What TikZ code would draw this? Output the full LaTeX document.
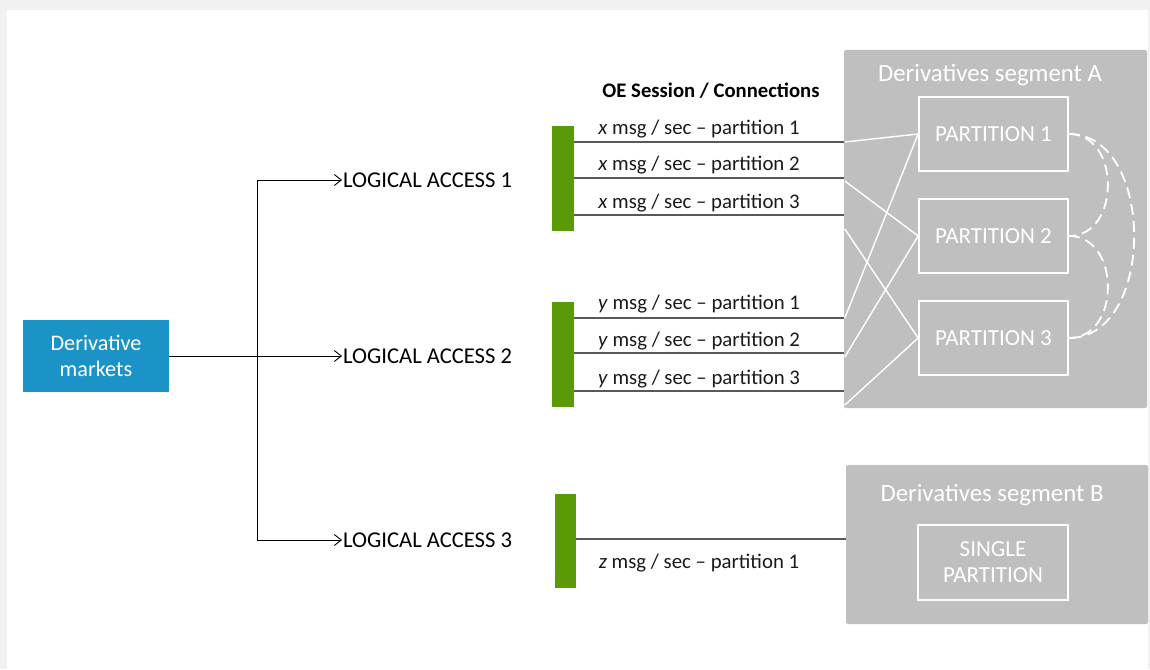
\documentclass[tikz,border=0pt]{standalone}
\usepackage{fontspec}
\setmainfont{Carlito}
\usetikzlibrary{arrows.meta,calc}
\definecolor{bggray}{HTML}{F1F1F1}
\definecolor{seggray}{HTML}{BFBFBF}
\definecolor{dmblue}{HTML}{1B93C7}
\definecolor{bargreen}{HTML}{5A9A06}
\definecolor{txtc}{HTML}{1A1A1A}
\definecolor{linec}{HTML}{595959}
\tikzset{
  fs/.style={font=\fontsize{#1}{26}\selectfont},
  lbl/.style={fs=20.8, text=txtc, inner sep=0},
  acc/.style={fs=22.6, text=black, anchor=west, inner sep=0},
  accarrow/.style={draw=black, line width=0.8pt, -{Straight Barb[length=7pt,width=11pt,line width=0.9pt]}},
  barbox/.style={fill=bargreen, inner sep=0, minimum width=22, minimum height=105},
  conn/.style={draw=linec, line width=1.4pt},
  seg/.style={fill=seggray, inner sep=0, rounded corners=2pt},
  segtitle/.style={fs=24.8, text=white, inner sep=0},
  part/.style={draw=white, line width=1.8pt, text=white, fs=23, minimum width=149, minimum height=74, inner sep=0, align=center},
  wl/.style={draw=white, line width=1.4pt},
  wd/.style={draw=white, line width=1.8pt, dash pattern=on 11pt off 6pt},
}
\begin{document}
\begin{tikzpicture}[x=1pt,y=-1pt]
\fill[bggray] (0,0) rectangle (1150,669);
\fill[white] (7,10) rectangle (1148,669);
\useasboundingbox (0,0) rectangle (1150,669);

% source
\node[fill=dmblue, text=white, fs=22.2, minimum width=146, minimum height=72, inner sep=0, align=center] (dm) at (96,356) {Derivative\\markets};
\coordinate (j) at (257,356);

% logical accesses
\node[acc] (la1) at (343,180) {LOGICAL ACCESS 1};
\node[acc] (la2) at (343,356) {LOGICAL ACCESS 2};
\node[acc] (la3) at (343,540) {LOGICAL ACCESS 3};
\draw[draw=black, line width=0.8pt] (dm.east) -- (j);
\draw[accarrow] (j) |- ($(la1.west)+(-1,0)$);
\draw[accarrow] (j) -- ($(la2.west)+(-1,0)$);
\draw[accarrow] (j) |- ($(la3.west)+(-1,0)$);

% bars
\node[barbox] (b1) at (563,178.5) {};
\node[barbox] (b2) at (563,354.5) {};
\node[barbox, minimum width=21, minimum height=94] (b3) at (565.5,541) {};

\node[font=\fontsize{20.7}{24}\selectfont\bfseries, text=black, inner sep=0] (oe) at (711,91) {OE Session / Connections};

% segments
\node[seg, minimum width=303, minimum height=358] (sa) at (995.5,229) {};
\node[segtitle] (sat) at (990,75) {Derivatives segment A};
\node[part] (p1) at (993.5,134) {PARTITION 1};
\node[part] (p2) at (993.5,236) {PARTITION 2};
\node[part] (p3) at (993.5,338) {PARTITION 3};

\node[seg, minimum width=302, minimum height=159] (sb) at (997,544.5) {};
\node[segtitle] (sbt) at (992,495) {Derivatives segment B};
\node[part, minimum width=150, minimum height=75] (sp) at (993,562.5) {SINGLE\\PARTITION};

% connections A
\foreach \y/\b in {142/b1,178/b1,215/b1,318/b2,353/b2,391/b2}{
  \draw[conn] (\b.east |- 0,\y) -- (sa.west |- 0,\y);
}
\node[lbl] (l11) at (699,129) {\textit{x} msg / sec – partition 1};
\node[lbl] (l12) at (699,165) {\textit{x} msg / sec – partition 2};
\node[lbl] (l13) at (699,203) {\textit{x} msg / sec – partition 3};
\node[lbl] (l21) at (699,304) {\textit{y} msg / sec – partition 1};
\node[lbl] (l22) at (699,341) {\textit{y} msg / sec – partition 2};
\node[lbl] (l23) at (699,379) {\textit{y} msg / sec – partition 3};

% connection B
\draw[conn] (b3.east |- 0,539) -- (sb.west |- 0,539);
\node[lbl] (l31) at (699,563) {\textit{z} msg / sec – partition 1};

% white lines in segment A
\draw[wl] ($(sa.west |- 0,142)+(1,0)$) -- (p1.west);
\draw[wl] ($(sa.west |- 0,181)+(1,0)$) -- (p2.west);
\draw[wl] ($(sa.west |- 0,229)+(1,0)$) -- (p3.west);
\draw[wl] ($(sa.west |- 0,318)+(1,0)$) -- (p1.west);
\draw[wl] ($(sa.west |- 0,357)+(1,0)$) -- (p2.west);
\draw[wl] ($(sa.west |- 0,405)+(1,0)$) -- (p3.west);

% dashed arcs
\draw[wd] (p1.east) .. controls +(52,0) and +(52,0) .. (p2.east);
\draw[wd] (p2.east) .. controls +(52,0) and +(52,0) .. (p3.east);
\draw[wd] (p1.east) .. controls +(87,0) and +(87,0) .. (p3.east);
\end{tikzpicture}
\end{document}
